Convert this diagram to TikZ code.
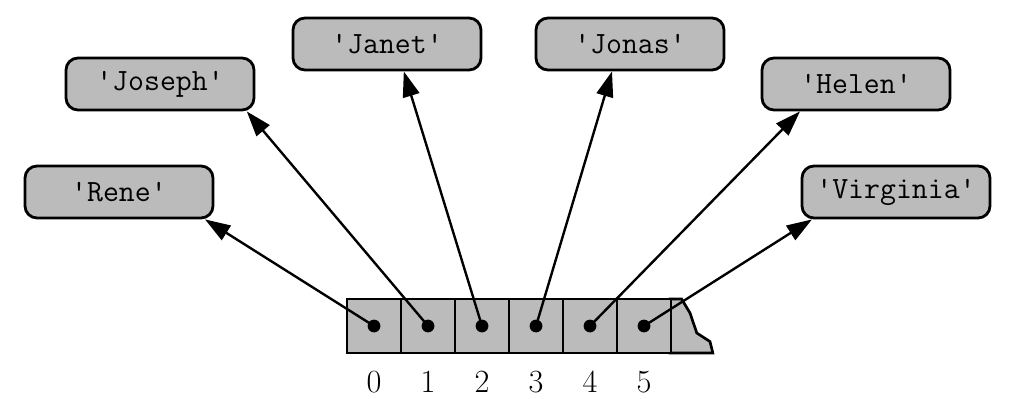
\documentclass[tikz,border=0pt]{standalone}
\usepackage{tikz}
\usetikzlibrary{arrows.meta,positioning,calc}
\definecolor{CellGray}{RGB}{187,187,187}
\newcommand{\qname}[1]{\textquotesingle#1\textquotesingle}
\tikzset{
  namebox/.style={draw,rounded corners=0.3cm,fill=CellGray,line width=2pt,
    minimum width=4.7cm,minimum height=1.3cm,inner sep=0pt,
    font=\fontsize{22}{26}\selectfont\ttfamily},
  cellbox/.style={draw,fill=CellGray,line width=1.9pt,minimum size=1.35cm,inner sep=0pt},
  refdot/.style={circle,fill=black,inner sep=0pt,minimum size=0.32cm},
  index/.style={font=\fontsize{23}{26}\selectfont,inner sep=0pt},
  pointer/.style={-{Triangle[length=18pt,width=12pt]},line width=1.7pt}
}

\begin{document}
\begin{tikzpicture}
  \useasboundingbox (0,0) rectangle (25.45,9.95);
  % the strings
  \node[namebox] (rene)     at (2.975,5.15) {\qname{Rene}};
  \node[namebox] (joseph)   at (4.0,7.85)   {\qname{Joseph}};
  \node[namebox] (janet)    at (9.675,8.85) {\qname{Janet}};
  \node[namebox] (jonas)    at (15.75,8.85) {\qname{Jonas}};
  \node[namebox] (helen)    at (21.4,7.85)  {\qname{Helen}};
  \node[namebox] (virginia) at (22.4,5.15)  {\qname{Virginia}};
  % torn end of the array
  \draw[fill=CellGray,line width=1.9pt] (16.75,2.475) -- (17.04,2.475) -- (17.25,2.125)
    -- (17.42,1.625) -- (17.75,1.41) -- (17.82,1.125) -- (16.75,1.125) -- cycle;
  % the array cells
  \foreach \i in {0,...,5} {
    \node[cellbox] (c\i) at ({9.35+1.35*\i},1.8) {};
    \node[refdot] (d\i) at (c\i) {};
    \node[index] (n\i) at ({9.35+1.35*\i},0.4) {\i};
  }
  % pointers
  \draw[pointer] (d0.center) -- ($(rene.south)+(2.15,0)$);
  \draw[pointer] (d1.center) -- ($(joseph.south)+(2.17,0)$);
  \draw[pointer] (d2.center) -- ($(janet.south)+(0.42,0)$);
  \draw[pointer] (d3.center) -- ($(jonas.south)+(-0.45,0)$);
  \draw[pointer] (d4.center) -- ($(helen.south)+(-1.4,0)$);
  \draw[pointer] (d5.center) -- ($(virginia.south)+(-2.1,0)$);
\end{tikzpicture}
\end{document}
